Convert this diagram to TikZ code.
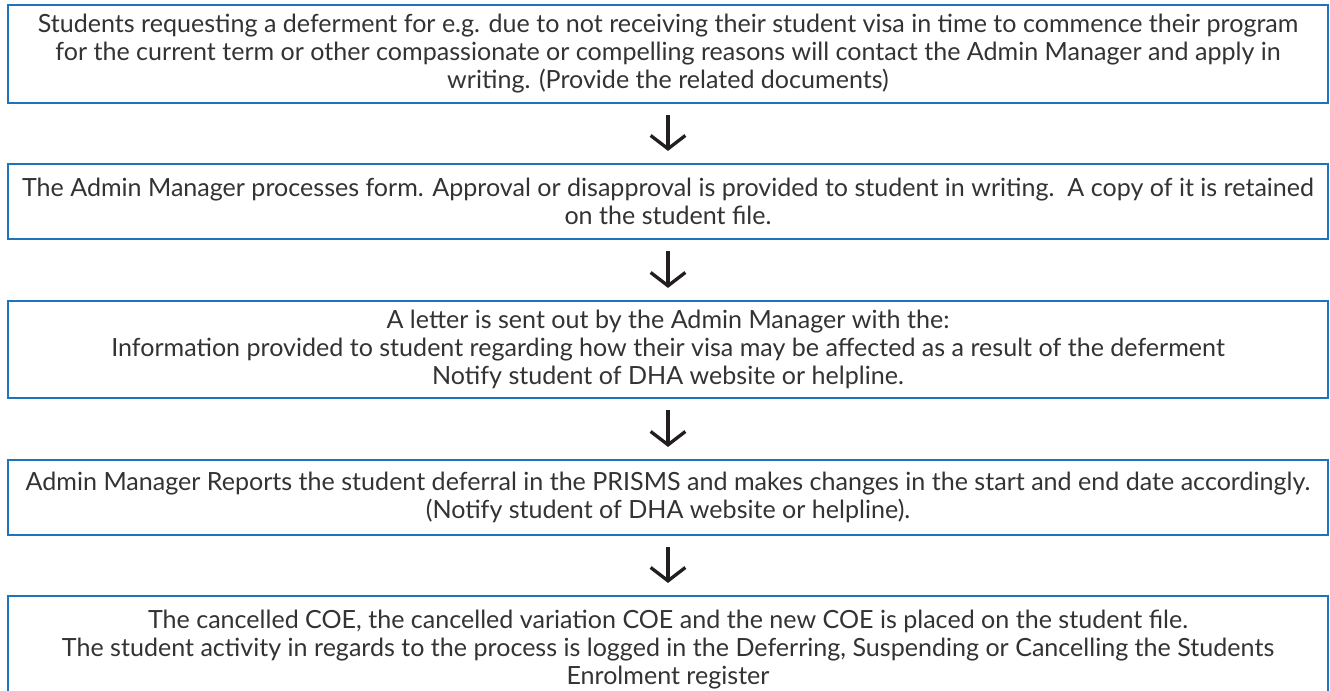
\documentclass[tikz,border=0pt]{standalone}
\usepackage{fontspec}
\setmainfont{Lato}
\usepackage{xcolor}
\usepackage{tikz}
\usetikzlibrary{arrows.meta}
\definecolor{ink}{HTML}{333333}
\definecolor{frame}{HTML}{1C75BC}
\definecolor{arrowc}{HTML}{231F20}
\tikzset{
  stepbox/.style={draw=frame, line width=1.6pt, rectangle, minimum width=990pt,
    align=center, text=ink, inner sep=0pt,
    font=\fontsize{18.8}{21}\selectfont},
  flow/.style={draw=arrowc, line width=2.5pt,
    -{Straight Barb[length=10pt, width=26pt, line width=2.5pt]},
    shorten <=8pt, shorten >=9pt},
}
\begin{document}
\begin{tikzpicture}[x=0.75pt, y=-0.75pt]
  \useasboundingbox (0,0) rectangle (1330,691);
  % the five steps
  \node[stepbox, minimum height=73.5pt] (s1) at (668,54)
    {Students requesting a deferment for e.g. due to not receiving their student visa in time to commence their program\\
     for the current term or other compassionate or compelling reasons will contact the Admin Manager and apply in\\
     writing. (Provide the related documents)};
  \node[stepbox, minimum height=56.25pt] (s2) at (668,201.5)
    {The Admin Manager processes form. Approval or disapproval is provided to student in writing.\ \ A copy of it is retained\\
     on the student file.};
  \node[stepbox, minimum height=72.75pt] (s3) at (668,349.5)
    {A letter is sent out by the Admin Manager with the:\\
     Information provided to student regarding how their visa may be affected as a result of the deferment\\
     Notify student of DHA website or helpline.};
  \node[stepbox, minimum height=56.25pt] (s4) at (668,497.5)
    {Admin Manager Reports the student deferral in the PRISMS and makes changes in the start and end date accordingly.\\
     (Notify student of DHA website or helpline).};
  \node[stepbox, minimum height=81pt] (s5) at (668,650)
    {The cancelled COE, the cancelled variation COE and the new COE is placed on the student file.\\
     The student activity in regards to the process is logged in the Deferring, Suspending or Cancelling the Students\\
     Enrolment register};
  % arrows
  \draw[flow] (s1) -- (s2);
  \draw[flow] (s2) -- (s3);
  \draw[flow] (s3) -- (s4);
  \draw[flow] (s4) -- (s5);
\end{tikzpicture}
\end{document}
